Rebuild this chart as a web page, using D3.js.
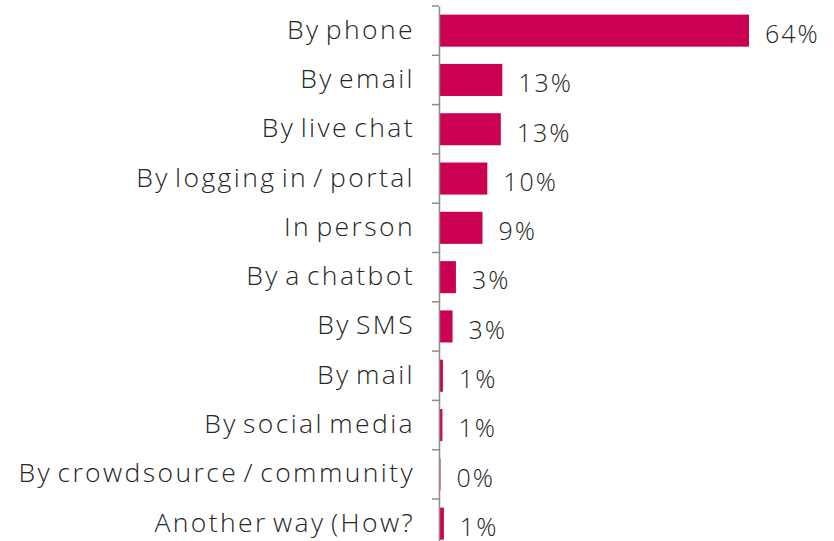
<!DOCTYPE html>
<html>
<head>
<meta charset="utf-8">
<script src="https://cdn.jsdelivr.net/npm/d3@7"></script>
<style>
  html, body { margin: 0; padding: 0; background: #fff; }
  svg { display: block; }
</style>
</head>
<body>
<svg id="chart" width="834" height="541"></svg>
<script>
'use strict'

// categories, top to bottom
const categories = [
  'By phone',
  'By email',
  'By live chat',
  'By logging in / portal',
  'In person',
  'By a chatbot',
  'By SMS',
  'By mail',
  'By social media',
  'By crowdsource / community',
  'Another way (How?'
]

// share of respondents, percent
const values = [64, 12.9, 12.6, 9.8, 8.8, 3.3, 2.6, 0.6, 0.5, 0.1, 0.8]

const axisX = 439
const font = '"Open Sans", Lato, sans-serif'

const svg = d3.select('#chart')

const x = d3.scaleLinear()
  .domain([0, 64])
  .range([axisX + 1, 749])

const y = d3.scaleBand()
  .domain(categories)
  .range([6, 6 + 49.3 * categories.length])
  .paddingInner(0.35)
  .paddingOuter(0.175)

// bars
svg.append('g')
  .selectAll('rect')
  .data(values)
  .join('rect')
  .attr('x', x(0))
  .attr('y', (d, i) => y(categories[i]))
  .attr('width', d => x(d) - x(0))
  .attr('height', y.bandwidth())
  .attr('fill', '#cc0052')

// category axis
const axis = d3.axisLeft(y).tickSize(0).tickPadding(24)
const gAxis = svg.append('g')
  .attr('transform', `translate(${axisX},0)`)
  .call(axis)
gAxis.select('.domain').attr('stroke', '#8c8c8c').attr('stroke-width', 1.5)
gAxis.selectAll('text')
  .attr('font-family', font)
  .attr('font-weight', 300)
  .attr('font-size', 26.5)
  .attr('letter-spacing', 2.4)
  .attr('word-spacing', -4)
  .attr('dy', '0.3em')
  .attr('fill', '#262626')

// tick marks at band boundaries
const step = y.step()
const bounds = d3.range(categories.length + 1).map(i => 6 + i * step)
svg.append('g')
  .selectAll('line')
  .data(bounds)
  .join('line')
  .attr('x1', axisX - 7)
  .attr('x2', axisX)
  .attr('y1', d => d)
  .attr('y2', d => d)
  .attr('stroke', '#8c8c8c')
  .attr('stroke-width', 1.5)

// value labels
svg.append('g')
  .selectAll('text')
  .data(values)
  .join('text')
  .attr('x', d => x(d) + 16)
  .attr('y', (d, i) => y(categories[i]) + y.bandwidth() / 2 + 4)
  .attr('dy', '0.33em')
  .attr('font-family', font)
  .attr('font-weight', 300)
  .attr('font-size', 25)
  .attr('letter-spacing', 2)
  .attr('fill', '#262626')
  .text(d => Math.round(d) + '%')
</script>
</body>
</html>
